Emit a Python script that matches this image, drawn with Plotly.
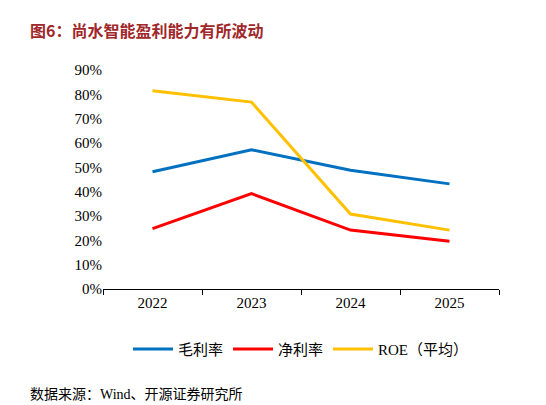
import plotly.graph_objects as go

years = ["2022", "2023", "2024", "2025"]
gross = [48.2, 57.2, 48.8, 43.2]
net = [24.8, 39.2, 24.2, 19.6]
roe = [81.5, 76.8, 30.8, 24.2]

font = "Times New Roman, Liberation Serif, Noto Sans CJK SC"
fig = go.Figure()
for name, vals, col in [("毛利率", gross, "#0070C0"), ("净利率", net, "#FF0000"), ("ROE（平均）", roe, "#FFC000")]:
    fig.add_trace(go.Scatter(x=years, y=vals, name=name, mode="lines", line=dict(color=col, width=3)))

fig.update_layout(
    width=546, height=405, plot_bgcolor="white", paper_bgcolor="white",
    margin=dict(l=95, r=55, t=62, b=124),
    font=dict(family=font, size=15, color="black"),
    xaxis=dict(showline=True, linecolor="black", ticks="outside", ticklen=5, tickcolor="black",
               showgrid=False, tickfont=dict(size=15), range=[-0.5, 3.5], tickson="boundaries"),
    yaxis=dict(range=[0, 90], dtick=10, ticksuffix="%", showgrid=False, showline=False,
               tickfont=dict(size=15)),
    legend=dict(orientation="h", x=0.5, xanchor="center", y=-0.2, yanchor="top",
                font=dict(size=15), itemwidth=40),
    showlegend=True,
)
fig.add_annotation(text="<b>图6：尚水智能盈利能力有所波动</b>", xref="paper", yref="paper",
                   x=-0.19, y=1.245, xanchor="left", yanchor="top", showarrow=False,
                   font=dict(size=16, color="#A0282A", family="Noto Sans CJK SC"))
fig.add_annotation(text="数据来源：Wind、开源证券研究所", xref="paper", yref="paper",
                   x=-0.19, y=-0.44, xanchor="left", yanchor="top", showarrow=False,
                   font=dict(size=14, color="black", family=font))
fig.write_html("out.html")
